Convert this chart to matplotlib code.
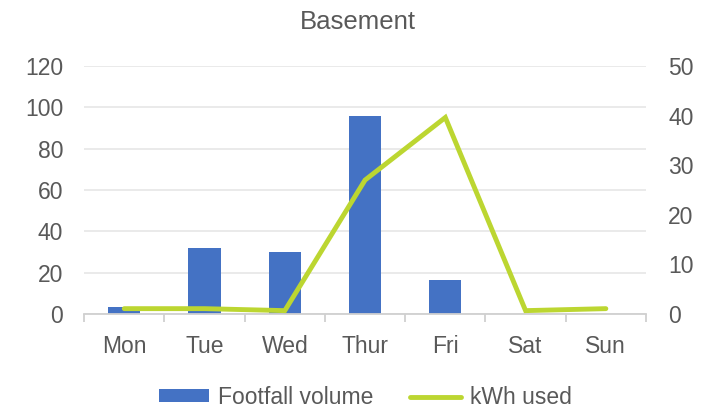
import matplotlib.pyplot as plt
import numpy as np

plt.rcParams['font.family'] = ['Liberation Sans', 'DejaVu Sans']

days = ['Mon', 'Tue', 'Wed', 'Thur', 'Fri', 'Sat', 'Sun']
footfall = [3.3, 32, 30, 96, 16.5, 0, 0]
kwh = [1.1, 1.1, 0.7, 27, 39.6, 0.7, 1.1]

text_col = '#595959'
grid_col = '#E6E6E6'
axis_col = '#D0D0D0'

fig = plt.figure(figsize=(7.13, 4.09), dpi=100)
ax = fig.add_axes([0.118, 0.232, 0.788, 0.607])
ax2 = ax.twinx()

x = np.arange(len(days))
ax.bar(x, footfall, width=0.4, color='#4472C4', label='Footfall volume', zorder=2)
ax2.plot(x, kwh, color='#BCD631', lw=3.5, solid_capstyle='round',
         solid_joinstyle='miter', label='kWh used', zorder=3)

ax.set_xlim(-0.5, 6.5)
ax.set_ylim(0, 120)
ax.set_yticks(range(0, 121, 20))
ax2.set_ylim(0, 50)
ax2.set_yticks(range(0, 51, 10))

ax.grid(axis='y', color=grid_col, lw=1.2, zorder=0)
ax.set_axisbelow(True)

for a in (ax, ax2):
    for s in a.spines.values():
        s.set_visible(False)
    a.tick_params(axis='y', length=0, labelsize=16.5, labelcolor=text_col)
ax.spines['bottom'].set_visible(True)
ax.spines['bottom'].set_color(axis_col)
ax.spines['bottom'].set_linewidth(1.3)

ax.set_xticks(x)
ax.set_xticklabels(days)
ax.set_xticks(np.arange(-0.5, 7, 1), minor=True)
ax.tick_params(axis='x', which='major', length=0, labelsize=16.5,
               labelcolor=text_col, pad=15)
ax.tick_params(axis='x', which='minor', length=6, color=axis_col, width=1.3)
ax.tick_params(axis='y', pad=15)
ax2.tick_params(axis='y', pad=16)

fig.text(0.502, 0.946, 'Basement', ha='center', va='center', fontsize=18.5,
         color=text_col)

h1, l1 = ax.get_legend_handles_labels()
h2, l2 = ax2.get_legend_handles_labels()
fig.legend(h1 + h2, l1 + l2, loc='center', bbox_to_anchor=(0.512, 0.028),
           ncol=2, frameon=False, fontsize=16.5, labelcolor=text_col,
           handlelength=2.2, handleheight=0.5, columnspacing=1.6,
           handletextpad=0.4, borderpad=0)

fig.savefig('out.png', dpi=100)
